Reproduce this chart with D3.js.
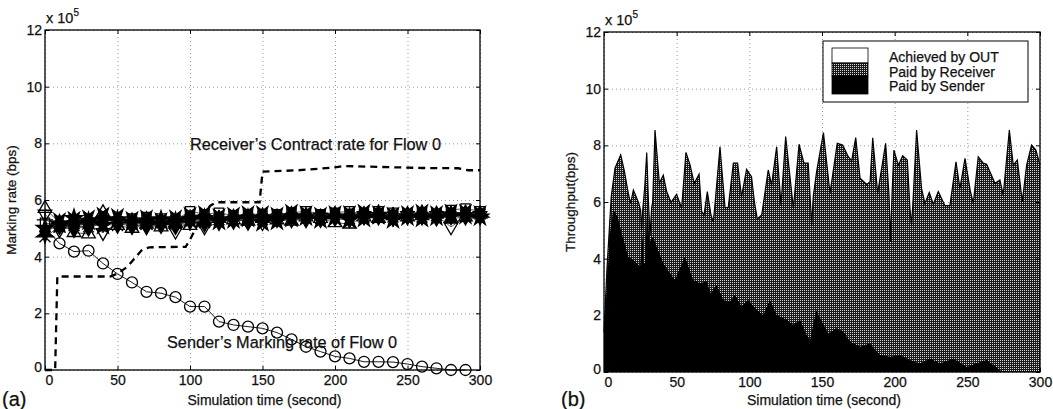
<!DOCTYPE html>
<html>
<head>
<meta charset="utf-8">
<script src="https://cdn.jsdelivr.net/npm/d3@7"></script>
<style>
  body { margin: 0; background: #fff; }
  svg { display: block; font-family: "Liberation Sans", Arial, sans-serif; }
  .tick text { font-size: 14px; fill: #111; stroke: #111; stroke-width: 0.25px; }
  .lbl { fill: #111; stroke: #111; stroke-width: 0.25px; }
  .grid line { stroke: #999; stroke-dasharray: 1,3; }
  .grid path { display: none; }
</style>
</head>
<body>
<svg id="chart" width="1053" height="409"></svg>
<script>
// ---- data (rates in units of 1e5 bps) ----
const xTicks = [0, 50, 100, 150, 200, 250, 300];
const yTicks = [0, 2, 4, 6, 8, 10, 12];

// (a) per-flow marking rates sampled every 10 s
const flowTime = [0,10,20,30,40,50,60,70,80,90,100,110,120,130,140,150,160,170,180,190,200,210,220,230,240,250,260,270,280,290,300];
const flowSquare  = [5.2,5.05,5.15,5.2,5.3,5.25,5.35,5.4,5.35,5.3,5.6,5.5,5.55,5.45,5.5,5.45,5.5,5.55,5.6,5.5,5.55,5.6,5.5,5.6,5.55,5.5,5.55,5.5,5.65,5.7,5.6];
const flowDiamond = [4.9,5.1,5.0,5.05,5.2,5.15,5.1,5.15,5.2,5.1,5.3,5.2,5.3,5.35,5.25,5.4,5.35,5.45,5.4,5.35,5.45,5.4,5.45,5.5,5.4,5.45,5.5,5.4,5.45,5.5,5.45];
const flowTriUp   = [5.7,5.2,4.85,4.8,5.55,5.1,5.0,5.15,5.05,5.2,5.1,5.25,5.35,5.3,5.25,5.35,5.3,5.25,5.4,5.35,5.2,5.15,5.4,5.35,5.45,5.4,5.45,5.5,5.35,5.4,5.5];
const flowTriDown = [5.5,4.95,5.05,5.1,4.85,5.2,5.15,5.05,5.1,4.9,5.25,5.05,5.2,5.25,5.3,5.2,5.35,5.3,5.3,5.4,5.35,5.3,5.45,5.4,5.35,5.45,5.4,5.45,5.05,5.4,5.45];
const flowStar    = [5.0,5.15,5.35,5.25,5.1,5.3,5.2,5.25,5.3,5.25,5.3,5.35,5.25,5.3,5.35,5.2,5.25,5.35,5.4,5.3,5.4,5.3,5.35,5.45,5.3,5.4,5.35,5.4,5.45,5.45,5.4];
const flowHex     = [4.8,5.25,5.3,5.35,5.45,5.4,5.3,5.35,5.25,5.35,5.45,5.5,5.4,5.45,5.5,5.5,5.45,5.55,5.5,5.45,5.5,5.5,5.55,5.5,5.45,5.5,5.55,5.5,5.55,5.55,5.5];
const flowPlus    = [5.3,5.1,5.2,5.15,5.3,5.2,5.25,5.2,5.15,5.2,5.2,5.3,5.35,5.3,5.4,5.35,5.4,5.4,5.35,5.4,5.45,5.4,5.4,5.45,5.45,5.4,5.45,5.45,5.5,5.5,5.45];
const flowTimes   = [4.7,5.05,5.1,5.05,5.15,5.1,5.2,5.15,5.2,5.25,5.25,5.2,5.3,5.25,5.3,5.3,5.35,5.3,5.35,5.35,5.3,5.35,5.4,5.35,5.4,5.45,5.4,5.45,5.4,5.45,5.5];

// (a) flow 0 sender's marking rate
const senderMarkTime = [0,10,20,30,40,50,60,70,80,90,100,110,120,130,140,150,160,170,180,190,200,210,220,230,240,250,260,270,280,290];
const senderMarkRate = [5.0,4.47,4.18,4.21,3.76,3.39,3.09,2.76,2.71,2.57,2.24,2.24,1.71,1.59,1.53,1.47,1.32,1.08,0.82,0.65,0.48,0.41,0.29,0.29,0.28,0.21,0.12,0.06,0,0];

// (a) receiver's contract rate for flow 0
const contractTime = [0,7,8.5,45,50,57,62,67,72,97,100,103,108,114,118,148,150,175,200,206,260,285,292,300];
const contractRate = [0,0,3.3,3.3,3.4,3.65,3.95,4.25,4.33,4.35,4.6,4.9,5.4,5.8,5.92,5.92,7.0,7.05,7.15,7.2,7.13,7.12,7.05,7.05];

// (b) total throughput of flow 0
const totalTime = [0,2,5,7.6,11.5,14,16.7,18.3,20.2,22,24,25.2,25.9,26.6,28,29.4,30.6,31.7,32.8,33.5,35.1,38.1,40.8,43.1,46.1,50,53.4,56.4,59.2,62.1,65.4,67.2,68.8,71.1,73.6,75.2,76.5,79.8,83.3,85.5,89,91.9,94.6,98.1,101.5,103.5,105.5,108.5,113,115.3,118.8,121.8,125,130.3,134.2,137.6,140.5,142.9,144,146.3,151,155.5,160.5,164.2,168.1,170.4,173.2,176.2,180.8,183.1,184.9,188.3,193.8,196.1,197.2,198.2,199.5,202.5,205.5,208.7,210.5,211.6,212.6,215.1,218.5,220.8,223.8,226.6,230,234.6,238,242.2,244.9,248.4,252,254.1,257.5,261,263.3,269,272.4,274.7,278.9,281.6,284.4,287.8,290.8,294.2,297.2,300];
const totalRate = [1.4,3.6,6.2,7.2,7.66,7.1,6.31,5.95,6.42,6.2,5.95,5.7,5.0,5.7,6.5,7.75,6.0,4.8,5.8,6.0,8.54,6.66,6.95,6.37,5.99,6.27,5.78,7.75,7.31,6.66,6.98,5.66,5.54,6.37,5.54,5.3,6.0,7.95,5.8,5.8,7.37,7.37,6.19,7.15,6.89,6.0,5.4,5.54,7.13,6.6,7.95,5.89,8.31,5.78,8.04,7.37,7.37,5.19,6.2,7.07,8.45,6.31,8.07,8.01,7.6,7.45,8.27,6.84,6.62,6.72,8.27,6.31,8.07,6.25,4.6,6.3,7.83,7.3,7.63,7.48,5.78,5.19,6.0,8.54,6.48,5.95,6.34,5.92,6.37,5.87,5.87,7.42,6.48,7.54,6.4,5.95,7.6,7.37,7.33,6.66,6.78,6.25,8.54,7.3,7.48,6.01,7.3,8.01,7.83,7.3];

// (b) part paid by sender
const senderTime = [0,4.1,6.4,9.4,12.2,16.7,20.2,24.8,26.6,27.2,28.2,29.8,31.2,33.9,36.2,40.8,45.4,48.9,52.3,55.7,58,61.4,66,70.6,73.4,77.5,82.1,86.6,90.1,94.6,99.3,105,109.6,114.2,118.8,125.7,130.3,134.9,139.5,141.8,146,149.9,154.4,160.2,164.8,169.3,176.2,183,189.9,196.8,203.7,210.5,217.4,224.3,231.2,240.4,249.5,256,263.3,272.5,277,300];
const senderRate = [1.36,4.89,5.72,5.48,4.89,4.07,3.95,3.72,4.89,3.84,3.84,5.96,4.6,4.77,4.42,3.84,3.48,3.25,3.66,4.07,3.72,3.25,3.13,3.19,2.78,3.07,2.54,2.48,2.72,2.31,2.54,2.19,2.01,2.54,2.01,1.84,1.66,1.84,1.3,1.13,2.19,1.78,1.36,1.54,1.42,1.07,0.89,1.01,0.6,0.54,0.6,0.42,0.3,0.48,0.3,0.48,0.18,0.3,0.42,0.06,0,0];

const legendLabels = ["Achieved by OUT", "Paid by Receiver", "Paid by Sender"];

// ---- setup ----
const svg = d3.select("#chart");
const defs = svg.append("defs");
const pat = defs.append("pattern")
    .attr("id", "dots")
    .attr("width", 2).attr("height", 2)
    .attr("patternUnits", "userSpaceOnUse");
pat.append("rect").attr("width", 2).attr("height", 2).attr("fill", "#1a1a1a");
pat.append("rect").attr("width", 1).attr("height", 1).attr("fill", "#d8d8d8");

function makePanel(box, yTitle, tag) {
    const x = d3.scaleLinear().domain([0, 300]).range([box.x0, box.x1]);
    const y = d3.scaleLinear().domain([0, 12]).range([box.y1, box.y0]);
    const g = svg.append("g");

    // dotted grid
    g.append("g").attr("class", "grid")
        .attr("transform", `translate(0,${box.y1})`)
        .call(d3.axisBottom(x).tickValues(xTicks).tickSize(-(box.y1 - box.y0)).tickFormat(""));
    g.append("g").attr("class", "grid")
        .attr("transform", `translate(${box.x0},0)`)
        .call(d3.axisLeft(y).tickValues(yTicks).tickSize(-(box.x1 - box.x0)).tickFormat(""));

    const marks = g.append("g");
    const front = svg.append("g");

    // frame and inward ticks
    const axB = front.append("g").attr("transform", `translate(0,${box.y1})`)
        .call(d3.axisBottom(x).tickValues(xTicks).tickSize(-4).tickPadding(5));
    const axL = front.append("g").attr("transform", `translate(${box.x0},0)`)
        .call(d3.axisLeft(y).tickValues(yTicks).tickSize(-4).tickPadding(3));
    front.append("g").attr("transform", `translate(0,${box.y0})`)
        .call(d3.axisTop(x).tickValues(xTicks).tickSize(-4).tickFormat(""));
    front.append("g").attr("transform", `translate(${box.x1},0)`)
        .call(d3.axisRight(y).tickValues(yTicks).tickSize(-4).tickFormat(""));
    front.selectAll(".domain").remove();
    front.selectAll(".tick line").attr("stroke", "#000");
    front.selectAll(".tick text").attr("font-family", "Liberation Sans, Arial, sans-serif");
    // nudge the shared corner labels like MATLAB
    axB.selectAll(".tick text").filter(d => d === 0).attr("dx", 4);
    axL.selectAll(".tick text").filter(d => d === 0).attr("dy", "0.1em");
    front.append("rect")
        .attr("x", box.x0).attr("y", box.y0)
        .attr("width", box.x1 - box.x0).attr("height", box.y1 - box.y0)
        .attr("fill", "none").attr("stroke", "#000").attr("stroke-width", 1.3);

    // exponent
    const ex = front.append("text").attr("class", "lbl")
        .attr("x", box.x0 + 1).attr("y", box.y0 - 7)
        .attr("font-size", 14.5).text("x 10");
    ex.append("tspan").attr("dy", -7).attr("font-size", 10).text("5");

    // titles
    front.append("text").attr("class", "lbl")
        .attr("x", (box.x0 + box.x1) / 2 + 2).attr("y", 405)
        .attr("text-anchor", "middle").attr("font-size", 14)
        .text("Simulation time (second)");
    front.append("text").attr("class", "lbl")
        .attr("transform", `translate(${box.x0 - 29},${(box.y0 + box.y1) / 2}) rotate(-90)`)
        .attr("text-anchor", "middle").attr("font-size", 13.5)
        .text(yTitle);
    front.append("text").attr("class", "lbl")
        .attr("x", box.x0 - 43).attr("y", 406)
        .attr("font-size", 20)
        .text(tag);

    return { x, y, marks, front };
}

// ---- (a) marking rates ----
const A = makePanel({ x0: 45, x1: 480, y0: 30, y1: 370 }, "Marking rate (bps)", "(a)");

const symPlus = d3.symbolPlus || d3.symbolCross;
const symTimes = d3.symbolTimes || d3.symbolX || d3.symbolCross;
const flows = [
    { v: flowSquare,  type: d3.symbolSquare,   size: 85, fill: "none", rot: 0 },
    { v: flowTriUp,   type: d3.symbolTriangle, size: 80, fill: "none", rot: 0 },
    { v: flowTriDown, type: d3.symbolTriangle, size: 80, fill: "none", rot: 180 },
    { v: flowPlus,    type: symPlus,           size: 90, fill: "none", rot: 0 },
    { v: flowTimes,   type: symTimes,          size: 80, fill: "none", rot: 0 },
    { v: flowDiamond, type: d3.symbolDiamond,  size: 95, fill: "#000", rot: 0 },
    { v: flowStar,    type: d3.symbolStar,     size: 95, fill: "#000", rot: 0 },
    { v: flowHex,     type: d3.symbolStar,     size: 95, fill: "#000", rot: 180 }
];

const lineA = d3.line().x(d => A.x(d[0])).y(d => A.y(d[1]));

flows.forEach(f => {
    const pts = flowTime.map((t, i) => [t, f.v[i]]);
    A.marks.append("path")
        .attr("d", lineA(pts))
        .attr("fill", "none").attr("stroke", "#333").attr("stroke-width", 0.8);
    A.marks.selectAll(null)
        .data(pts)
        .enter().append("path")
        .attr("transform", d => `translate(${A.x(d[0])},${A.y(d[1])}) rotate(${f.rot})`)
        .attr("d", d3.symbol().type(f.type).size(f.size))
        .attr("fill", f.fill)
        .attr("stroke", "#000").attr("stroke-width", 1.3);
});

// flow 0: sender's marking rate (circles)
const senderPts = senderMarkTime.map((t, i) => [t, senderMarkRate[i]]);
A.marks.append("path")
    .attr("d", lineA(senderPts))
    .attr("fill", "none").attr("stroke", "#000").attr("stroke-width", 0.9);
A.marks.selectAll(".circ")
    .data(senderPts.slice(1))
    .enter().append("circle")
    .attr("class", "circ")
    .attr("cx", d => A.x(d[0])).attr("cy", d => A.y(d[1]))
    .attr("r", 5.5)
    .attr("fill", "none").attr("stroke", "#000").attr("stroke-width", 1.3);

// receiver's contract rate (dashed)
A.marks.append("path")
    .attr("d", lineA(contractTime.map((t, i) => [t, contractRate[i]])))
    .attr("fill", "none").attr("stroke", "#000")
    .attr("stroke-width", 2.3).attr("stroke-dasharray", "7,5");

A.front.append("text").attr("class", "lbl").attr("x", 190).attr("y", 150)
    .attr("font-size", 16.3)
    .text("Receiver\u2019s Contract rate for Flow 0");
A.front.append("text").attr("class", "lbl").attr("x", 167).attr("y", 348)
    .attr("font-size", 16.3)
    .text("Sender\u2019s Marking rate of Flow 0");

// ---- (b) throughput ----
const B = makePanel({ x0: 604, x1: 1040, y0: 32, y1: 372 }, "Throughput(bps)", "(b)");

const areaB = d3.area().x(d => B.x(d[0])).y0(B.y(0)).y1(d => B.y(d[1]));
const totalPts = totalTime.map((t, i) => [t, totalRate[i]]);
const senderPts2 = senderTime.map((t, i) => [t, senderRate[i]]);

B.marks.append("path").attr("d", areaB(totalPts)).attr("fill", "url(#dots)");
B.marks.append("path").attr("d", areaB(senderPts2)).attr("fill", "#000");
B.marks.append("path")
    .attr("d", d3.line().x(d => B.x(d[0])).y(d => B.y(d[1]))(totalPts))
    .attr("fill", "none").attr("stroke", "#000").attr("stroke-width", 1.2);

// legend
const lg = B.front.append("g");
lg.append("rect").attr("x", 823).attr("y", 41).attr("width", 205).attr("height", 61)
    .attr("fill", "#fff").attr("stroke", "#000").attr("stroke-width", 1);
const swFills = ["#fff", "url(#dots)", "#000"];
const swY = [48, 63, 76, 94];
swFills.forEach((f, i) => {
    lg.append("rect").attr("x", 832).attr("y", swY[i])
        .attr("width", 36).attr("height", swY[i + 1] - swY[i])
        .attr("fill", f).attr("stroke", "#000").attr("stroke-width", 0.8);
});
lg.selectAll(".lt")
    .data(legendLabels)
    .enter().append("text")
    .attr("class", "lt lbl")
    .attr("x", 889).attr("y", (d, i) => 62 + i * 14.5)
    .attr("font-size", 14)
    .text(d => d);
</script>
</body>
</html>
